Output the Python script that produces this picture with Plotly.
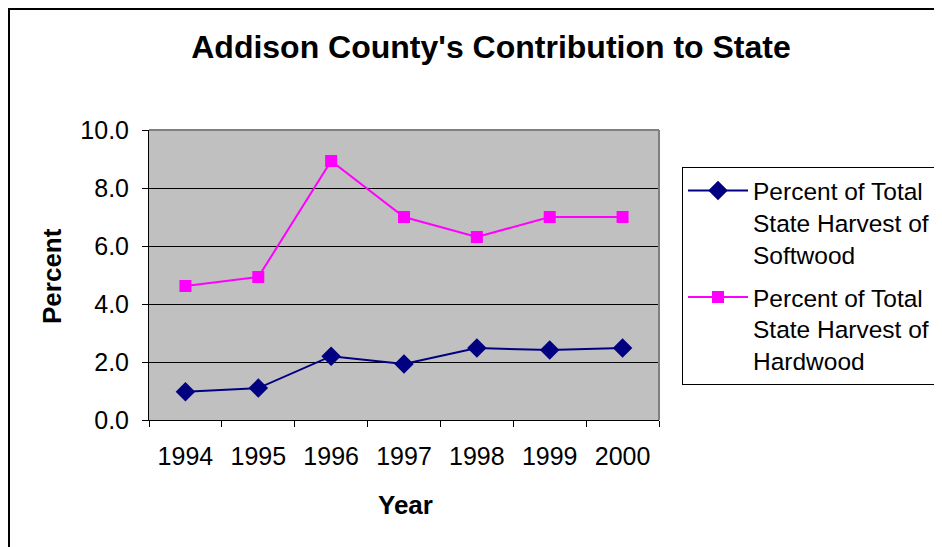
import plotly.graph_objects as go

years = ["1994", "1995", "1996", "1997", "1998", "1999", "2000"]
softwood = [0.97, 1.10, 2.20, 1.93, 2.48, 2.41, 2.48]
hardwood = [4.62, 4.93, 8.93, 7.00, 6.31, 7.00, 7.00]

FONT = "Arial, Liberation Sans, sans-serif"

# the page adds an 8px body margin, so positions are shifted back by 8
OFF = 8
W, H = 942, 547
L, R, T, B = 149 - OFF, 659 - OFF, 130 - OFF, 420 - OFF
pw, ph = R - L, B - T


def px(x):
    return (x - OFF - L) / pw


def py(y):
    return (B - (y - OFF)) / ph


fig = go.Figure()
fig.add_trace(go.Scatter(
    x=years, y=softwood, mode="lines+markers",
    name="Percent of Total<br>State Harvest of<br>Softwood",
    legendgroup="soft",
    line=dict(color="#000080", width=2),
    marker=dict(symbol="diamond", size=15, color="#000080"),
))
fig.add_trace(go.Scatter(
    x=years, y=hardwood, mode="lines+markers",
    name="Percent of Total<br>State Harvest of<br>Hardwood",
    legendgroup="hard",
    line=dict(color="#FF00FF", width=2),
    marker=dict(symbol="square", size=12, color="#FF00FF"),
))

fig.update_layout(
    width=W, height=H,
    margin=dict(l=L, r=W - R, t=T, b=H - B, autoexpand=False),
    paper_bgcolor="white",
    plot_bgcolor="#C0C0C0",
    font=dict(family=FONT, size=25, color="black"),
    title=dict(
        text="<b>Addison County's Contribution to State</b>",
        x=(491 - OFF) / W, xanchor="center", y=1 - (47 - OFF) / H, yanchor="middle",
        font=dict(size=32, family=FONT, color="black"),
    ),
    showlegend=True,
    legend=dict(
        x=px(682), y=py(167), xanchor="left", yanchor="top",
        bgcolor="white", bordercolor="black", borderwidth=1,
        font=dict(size=24.5, family=FONT, color="black"),
        valign="top", itemwidth=60, tracegroupgap=8,
    ),
    xaxis=dict(
        type="category", range=[-0.5, 6.5], tickson="boundaries",
        ticks="outside", ticklen=6, tickcolor="black",
        showline=True, linecolor="black", linewidth=1,
        showgrid=False, zeroline=False, ticklabelstandoff=14,
    ),
    yaxis=dict(
        range=[0, 10], dtick=2, tickformat=".1f",
        ticks="outside", ticklen=6, tickcolor="black",
        showline=True, linecolor="black", linewidth=1,
        showgrid=True, gridcolor="black", gridwidth=1,
        zeroline=False, ticklabelstandoff=8,
    ),
    annotations=[
        dict(text="<b>Percent</b>", x=px(52), y=py(276), xref="paper", yref="paper",
             xanchor="center", yanchor="middle",
             textangle=-90, showarrow=False, font=dict(size=26, family=FONT)),
        dict(text="<b>Year</b>", x=px(405), y=py(505), xref="paper", yref="paper",
             xanchor="center", yanchor="middle",
             showarrow=False, font=dict(size=26, family=FONT)),
    ],
    shapes=[
        dict(type="line", xref="paper", yref="paper", x0=0, x1=1, y0=1, y1=1,
             line=dict(color="#808080", width=2), layer="above"),
        dict(type="line", xref="paper", yref="paper", x0=1, x1=1, y0=0, y1=1,
             line=dict(color="#808080", width=2), layer="above"),
        dict(type="rect", xref="paper", yref="paper",
             x0=px(9), x1=px(990), y0=py(600), y1=py(9),
             line=dict(color="black", width=2), layer="above"),
    ],
)

fig.write_html("out.html")
